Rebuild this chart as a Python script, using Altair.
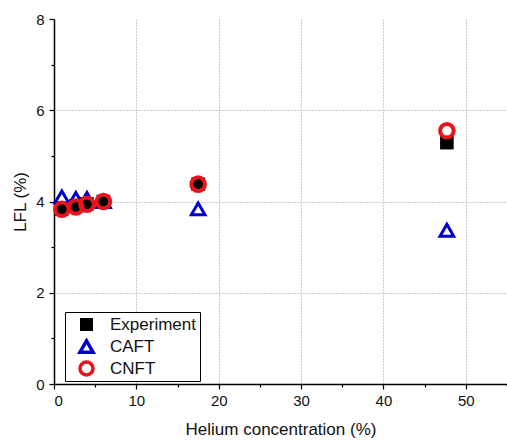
import altair as alt
import pandas as pd

helium = [0.95, 2.65, 4.0, 6.0, 17.5, 47.7]
experiment = [3.84, 3.90, 3.95, 4.00, 4.38, 5.29]
caft = [4.10, 4.07, 4.07, 4.00, 3.84, 3.37]
cnft = [3.83, 3.88, 3.94, 4.00, 4.38, 5.55]

series = ["Experiment", "CAFT", "CNFT"]
draw_order = {"CAFT": 0, "Experiment": 1, "CNFT": 2}
stroke_widths = {"Experiment": 0, "CAFT": 3, "CNFT": 4}

rows = []
for name, vals in zip(series, [experiment, caft, cnft]):
    for h, v in zip(helium, vals):
        rows.append({"he": h, "lfl": v, "series": name, "z": draw_order[name],
                     "sw": stroke_widths[name]})
df = pd.DataFrame(rows)

font = "Liberation Sans"
dom = series

points = alt.Chart(df).mark_point(opacity=1).encode(
    x=alt.X("he:Q", scale=alt.Scale(domain=[0, 55], nice=False),
            axis=alt.Axis(values=[0, 10, 20, 30, 40, 50], title="Helium concentration (%)",
                          grid=True, gridDash=[1, 2], gridColor="#999",
                          gridOpacity=alt.ExprRef("datum.value == 0 ? 0 : 1"),
                          tickSize=5, labelPadding=4, titlePadding=13)),
    y=alt.Y("lfl:Q", scale=alt.Scale(domain=[0, 8], nice=False),
            axis=alt.Axis(values=[0, 2, 4, 6, 8], title="LFL (%)",
                          grid=True, gridDash=[1, 2], gridColor="#999",
                          gridOpacity=alt.ExprRef("(datum.value == 0 || datum.value == 8) ? 0 : 1"),
                          tickSize=5, labelPadding=5, titlePadding=6)),
    shape=alt.Shape("series:N", title=None,
                    scale=alt.Scale(domain=dom, range=["square", "triangle-up", "circle"]),
                    legend=alt.Legend(orient="none")),
    fill=alt.Fill("series:N", title=None,
                  scale=alt.Scale(domain=dom, range=["#000000", "transparent", "transparent"])),
    stroke=alt.Stroke("series:N", title=None,
                      scale=alt.Scale(domain=dom, range=["transparent", "#0000cc", "#e8141b"])),
    strokeWidth=alt.StrokeWidth("sw:Q", scale=None, legend=None),
    size=alt.value(185),
    order=alt.Order("z:Q"),
)

minor = alt.Chart(df).mark_point(opacity=0).encode(
    x=alt.X("he:Q", scale=alt.Scale(domain=[0, 55], nice=False),
            axis=alt.Axis(values=[5, 15, 25, 35, 45, 55], labels=False, domain=False,
                          grid=False, tickSize=3, title=None, orient="bottom")),
    y=alt.Y("lfl:Q", scale=alt.Scale(domain=[0, 8], nice=False),
            axis=alt.Axis(values=[1, 3, 5, 7], labels=False, domain=False,
                          grid=False, tickSize=3, title=None, orient="left")),
)

chart = alt.layer(points, minor).resolve_axis(x="independent", y="independent").properties(
    width=453, height=365,
    autosize=alt.AutoSizeParams(type="none"),
    padding={"left": 54, "top": 19, "right": 0, "bottom": 57},
).configure_view(stroke=None).configure_axis(
    domainColor="#000000", domainWidth=1.5, tickColor="#000000", tickWidth=1.2,
    labelFont=font, labelFontSize=15, labelColor="#111111",
    titleFont=font, titleFontSize=17, titleFontWeight="normal", titleColor="#111111",
).configure_legend(
    orient="none", legendX=11, legendY=293,
    strokeColor="#000000", strokeWidth=1, fillColor="#ffffff",
    padding=4, symbolOffset=9, labelOffset=15, rowPadding=4, clipHeight=17,
    labelFont=font, labelFontSize=17, labelColor="#111111",
    symbolSize=170, symbolOpacity=1, symbolStrokeWidth=3.5,
)

chart.save("out.html", embed_options={"renderer": "svg", "actions": False})
